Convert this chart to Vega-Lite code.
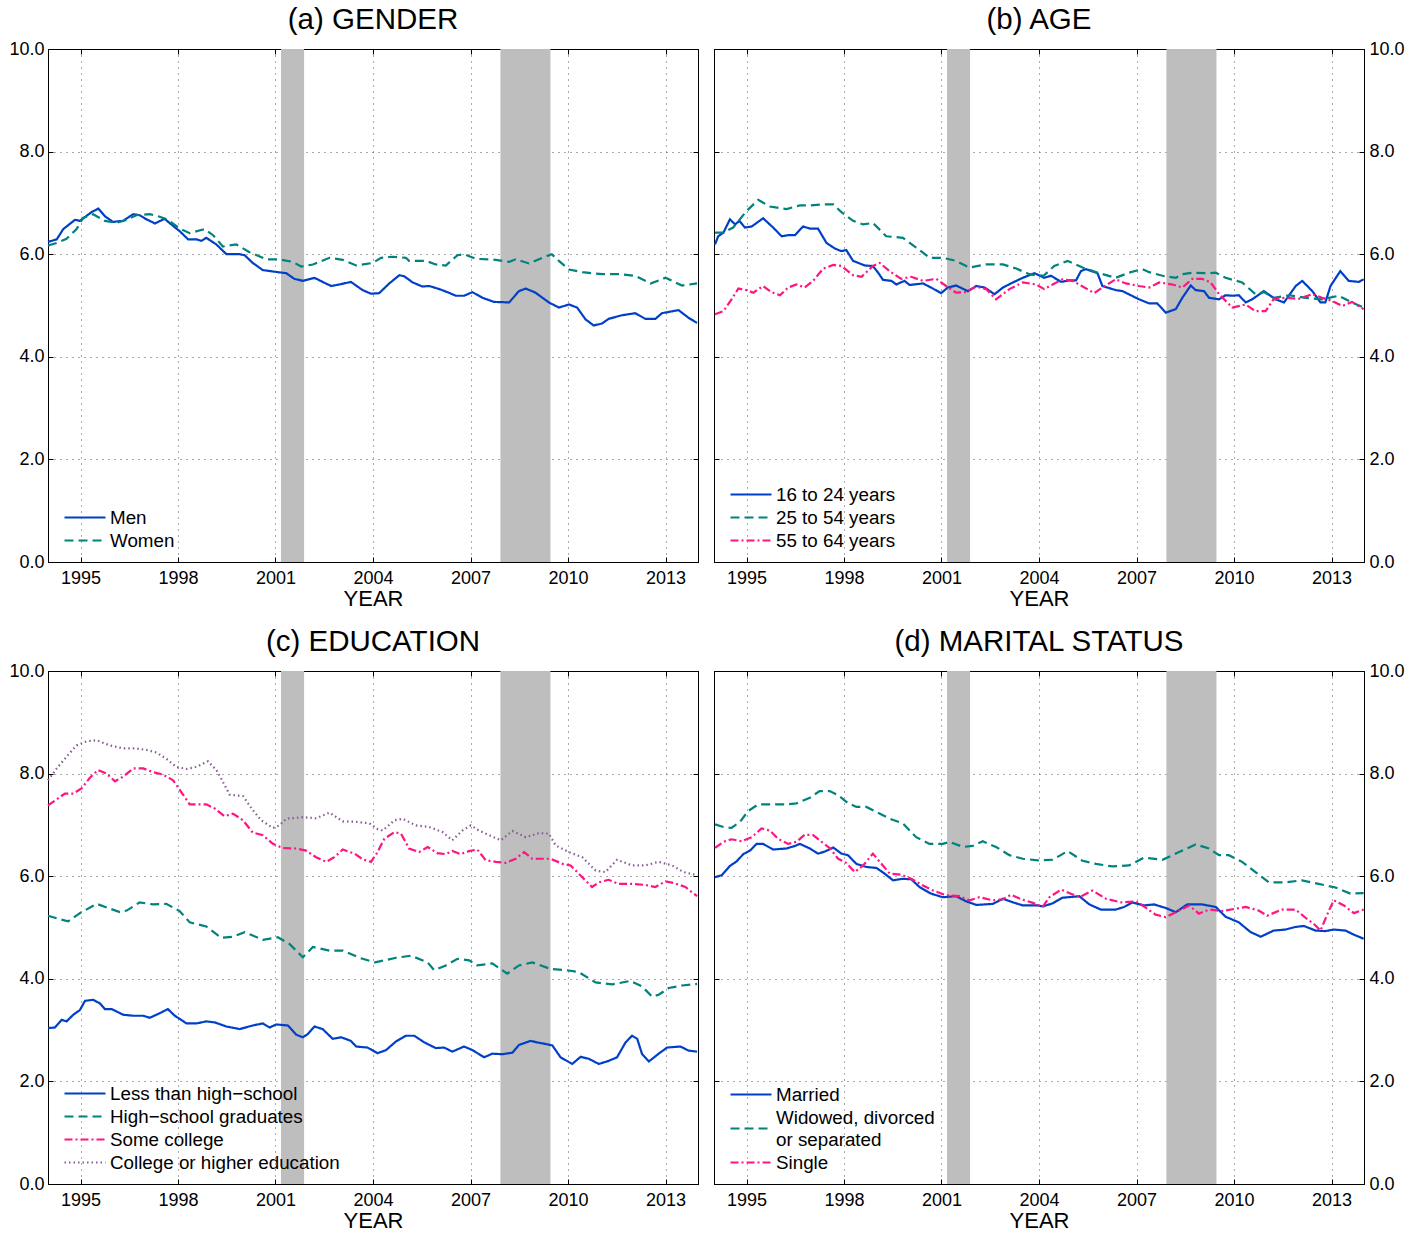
{
"$schema": "https://vega.github.io/schema/vega-lite/v6.json",
"padding": {"left": 8, "top": 4, "right": 5, "bottom": 5},
"config": {
  "font": "Liberation Sans",
  "view": {"stroke": "black", "strokeWidth": 1},
  "title": {"fontSize": 29.5, "fontWeight": "normal", "color": "black", "offset": 5},
  "axis": {"labelFontSize": 18, "labelColor": "black", "titleFontSize": 22, "titleFontWeight": "normal", "titleColor": "black", "domainColor": "black", "tickColor": "black", "tickSize": -5, "gridColor": "#555555", "gridDash": [1, 5], "gridOpacity": 1, "gridWidth": 1},
  "legend": {"orient": "bottom-left", "offset": 11, "padding": 0, "title": null, "labelFontSize": 18.8, "labelColor": "black", "symbolType": "stroke", "symbolSize": 1681, "symbolStrokeWidth": 2.2, "clipHeight": 17, "rowPadding": 3, "symbolOffset": 4, "labelOffset": 3, "labelLimit": 400}
},
"datasets": {
"rec": [{"start": 2001.17, "end": 2001.88}, {"start": 2007.92, "end": 2009.46}],
"a": [
{"s":"Men","x":1994.0,"y":6.24},{"s":"Men","x":1994.27,"y":6.29},{"s":"Men","x":1994.47,"y":6.49},{"s":"Men","x":1994.83,"y":6.67},{"s":"Men","x":1994.98,"y":6.65},{"s":"Men","x":1995.34,"y":6.82},{"s":"Men","x":1995.55,"y":6.89},{"s":"Men","x":1995.75,"y":6.74},{"s":"Men","x":1996.0,"y":6.63},{"s":"Men","x":1996.31,"y":6.65},{"s":"Men","x":1996.62,"y":6.78},{"s":"Men","x":1996.82,"y":6.76},{"s":"Men","x":1997.03,"y":6.68},{"s":"Men","x":1997.29,"y":6.60},{"s":"Men","x":1997.59,"y":6.69},{"s":"Men","x":1997.85,"y":6.55},{"s":"Men","x":1998.05,"y":6.45},{"s":"Men","x":1998.31,"y":6.29},{"s":"Men","x":1998.57,"y":6.29},{"s":"Men","x":1998.72,"y":6.26},{"s":"Men","x":1998.87,"y":6.32},{"s":"Men","x":1999.18,"y":6.19},{"s":"Men","x":1999.49,"y":6.00},{"s":"Men","x":1999.9,"y":6.00},{"s":"Men","x":2000.05,"y":5.98},{"s":"Men","x":2000.3,"y":5.83},{"s":"Men","x":2000.61,"y":5.69},{"s":"Men","x":2001.07,"y":5.65},{"s":"Men","x":2001.33,"y":5.63},{"s":"Men","x":2001.58,"y":5.52},{"s":"Men","x":2001.84,"y":5.48},{"s":"Men","x":2002.2,"y":5.54},{"s":"Men","x":2002.45,"y":5.46},{"s":"Men","x":2002.71,"y":5.38},{"s":"Men","x":2002.97,"y":5.41},{"s":"Men","x":2003.32,"y":5.46},{"s":"Men","x":2003.68,"y":5.30},{"s":"Men","x":2003.94,"y":5.23},{"s":"Men","x":2004.19,"y":5.24},{"s":"Men","x":2004.5,"y":5.43},{"s":"Men","x":2004.81,"y":5.59},{"s":"Men","x":2004.96,"y":5.57},{"s":"Men","x":2005.22,"y":5.45},{"s":"Men","x":2005.52,"y":5.37},{"s":"Men","x":2005.73,"y":5.38},{"s":"Men","x":2006.04,"y":5.32},{"s":"Men","x":2006.29,"y":5.26},{"s":"Men","x":2006.55,"y":5.19},{"s":"Men","x":2006.8,"y":5.19},{"s":"Men","x":2007.06,"y":5.26},{"s":"Men","x":2007.37,"y":5.15},{"s":"Men","x":2007.72,"y":5.07},{"s":"Men","x":2008.19,"y":5.06},{"s":"Men","x":2008.49,"y":5.28},{"s":"Men","x":2008.7,"y":5.33},{"s":"Men","x":2009.0,"y":5.25},{"s":"Men","x":2009.41,"y":5.06},{"s":"Men","x":2009.72,"y":4.96},{"s":"Men","x":2010.03,"y":5.02},{"s":"Men","x":2010.28,"y":4.96},{"s":"Men","x":2010.54,"y":4.73},{"s":"Men","x":2010.79,"y":4.61},{"s":"Men","x":2011.05,"y":4.65},{"s":"Men","x":2011.25,"y":4.74},{"s":"Men","x":2011.66,"y":4.81},{"s":"Men","x":2012.07,"y":4.85},{"s":"Men","x":2012.38,"y":4.74},{"s":"Men","x":2012.69,"y":4.74},{"s":"Men","x":2012.89,"y":4.85},{"s":"Men","x":2013.4,"y":4.91},{"s":"Men","x":2013.71,"y":4.76},{"s":"Men","x":2013.97,"y":4.66},
{"s":"Women","x":1994.0,"y":6.17},{"s":"Women","x":1994.27,"y":6.22},{"s":"Women","x":1994.57,"y":6.30},{"s":"Women","x":1994.88,"y":6.49},{"s":"Women","x":1995.08,"y":6.71},{"s":"Women","x":1995.39,"y":6.78},{"s":"Women","x":1995.75,"y":6.65},{"s":"Women","x":1996.11,"y":6.61},{"s":"Women","x":1996.42,"y":6.67},{"s":"Women","x":1996.72,"y":6.76},{"s":"Women","x":1997.13,"y":6.78},{"s":"Women","x":1997.44,"y":6.73},{"s":"Women","x":1997.69,"y":6.67},{"s":"Women","x":1998.05,"y":6.50},{"s":"Women","x":1998.36,"y":6.41},{"s":"Women","x":1998.82,"y":6.49},{"s":"Women","x":1999.08,"y":6.37},{"s":"Women","x":1999.38,"y":6.15},{"s":"Women","x":1999.79,"y":6.19},{"s":"Women","x":2000.2,"y":6.04},{"s":"Women","x":2000.71,"y":5.90},{"s":"Women","x":2001.12,"y":5.90},{"s":"Women","x":2001.53,"y":5.85},{"s":"Women","x":2001.79,"y":5.76},{"s":"Women","x":2002.15,"y":5.80},{"s":"Women","x":2002.66,"y":5.93},{"s":"Women","x":2003.07,"y":5.89},{"s":"Women","x":2003.48,"y":5.78},{"s":"Women","x":2003.99,"y":5.83},{"s":"Women","x":2004.25,"y":5.93},{"s":"Women","x":2004.6,"y":5.95},{"s":"Women","x":2005.01,"y":5.93},{"s":"Women","x":2005.11,"y":5.87},{"s":"Women","x":2005.63,"y":5.87},{"s":"Women","x":2005.93,"y":5.80},{"s":"Women","x":2006.24,"y":5.78},{"s":"Women","x":2006.6,"y":5.98},{"s":"Women","x":2006.8,"y":6.00},{"s":"Women","x":2007.16,"y":5.91},{"s":"Women","x":2007.78,"y":5.89},{"s":"Women","x":2008.19,"y":5.85},{"s":"Women","x":2008.39,"y":5.90},{"s":"Women","x":2008.8,"y":5.82},{"s":"Women","x":2009.21,"y":5.93},{"s":"Women","x":2009.5,"y":6.00},{"s":"Women","x":2009.72,"y":5.87},{"s":"Women","x":2010.03,"y":5.70},{"s":"Women","x":2010.44,"y":5.65},{"s":"Women","x":2011.05,"y":5.61},{"s":"Women","x":2011.56,"y":5.61},{"s":"Women","x":2012.07,"y":5.58},{"s":"Women","x":2012.54,"y":5.43},{"s":"Women","x":2013.0,"y":5.54},{"s":"Women","x":2013.51,"y":5.39},{"s":"Women","x":2013.97,"y":5.43}
],
"b": [
{"s":"16 to 24 years","x":1994.03,"y":6.19},{"s":"16 to 24 years","x":1994.13,"y":6.35},{"s":"16 to 24 years","x":1994.29,"y":6.42},{"s":"16 to 24 years","x":1994.49,"y":6.68},{"s":"16 to 24 years","x":1994.65,"y":6.58},{"s":"16 to 24 years","x":1994.78,"y":6.65},{"s":"16 to 24 years","x":1994.95,"y":6.52},{"s":"16 to 24 years","x":1995.16,"y":6.54},{"s":"16 to 24 years","x":1995.51,"y":6.70},{"s":"16 to 24 years","x":1995.82,"y":6.52},{"s":"16 to 24 years","x":1996.08,"y":6.35},{"s":"16 to 24 years","x":1996.28,"y":6.37},{"s":"16 to 24 years","x":1996.49,"y":6.37},{"s":"16 to 24 years","x":1996.74,"y":6.54},{"s":"16 to 24 years","x":1996.95,"y":6.50},{"s":"16 to 24 years","x":1997.2,"y":6.50},{"s":"16 to 24 years","x":1997.46,"y":6.22},{"s":"16 to 24 years","x":1997.72,"y":6.11},{"s":"16 to 24 years","x":1997.92,"y":6.06},{"s":"16 to 24 years","x":1998.07,"y":6.08},{"s":"16 to 24 years","x":1998.28,"y":5.87},{"s":"16 to 24 years","x":1998.64,"y":5.78},{"s":"16 to 24 years","x":1998.89,"y":5.77},{"s":"16 to 24 years","x":1999.05,"y":5.64},{"s":"16 to 24 years","x":1999.2,"y":5.50},{"s":"16 to 24 years","x":1999.46,"y":5.48},{"s":"16 to 24 years","x":1999.61,"y":5.41},{"s":"16 to 24 years","x":1999.86,"y":5.48},{"s":"16 to 24 years","x":2000.02,"y":5.40},{"s":"16 to 24 years","x":2000.43,"y":5.43},{"s":"16 to 24 years","x":2000.68,"y":5.35},{"s":"16 to 24 years","x":2000.99,"y":5.24},{"s":"16 to 24 years","x":2001.19,"y":5.35},{"s":"16 to 24 years","x":2001.45,"y":5.39},{"s":"16 to 24 years","x":2001.81,"y":5.28},{"s":"16 to 24 years","x":2002.07,"y":5.38},{"s":"16 to 24 years","x":2002.33,"y":5.35},{"s":"16 to 24 years","x":2002.63,"y":5.22},{"s":"16 to 24 years","x":2002.89,"y":5.35},{"s":"16 to 24 years","x":2003.2,"y":5.45},{"s":"16 to 24 years","x":2003.5,"y":5.54},{"s":"16 to 24 years","x":2003.86,"y":5.63},{"s":"16 to 24 years","x":2004.16,"y":5.54},{"s":"16 to 24 years","x":2004.37,"y":5.58},{"s":"16 to 24 years","x":2004.68,"y":5.46},{"s":"16 to 24 years","x":2004.93,"y":5.49},{"s":"16 to 24 years","x":2005.14,"y":5.49},{"s":"16 to 24 years","x":2005.29,"y":5.67},{"s":"16 to 24 years","x":2005.44,"y":5.71},{"s":"16 to 24 years","x":2005.8,"y":5.63},{"s":"16 to 24 years","x":2005.95,"y":5.38},{"s":"16 to 24 years","x":2006.36,"y":5.30},{"s":"16 to 24 years","x":2006.57,"y":5.28},{"s":"16 to 24 years","x":2007.08,"y":5.12},{"s":"16 to 24 years","x":2007.39,"y":5.04},{"s":"16 to 24 years","x":2007.64,"y":5.04},{"s":"16 to 24 years","x":2007.9,"y":4.86},{"s":"16 to 24 years","x":2008.21,"y":4.93},{"s":"16 to 24 years","x":2008.41,"y":5.15},{"s":"16 to 24 years","x":2008.67,"y":5.39},{"s":"16 to 24 years","x":2008.82,"y":5.30},{"s":"16 to 24 years","x":2009.08,"y":5.28},{"s":"16 to 24 years","x":2009.23,"y":5.15},{"s":"16 to 24 years","x":2009.54,"y":5.12},{"s":"16 to 24 years","x":2009.74,"y":5.20},{"s":"16 to 24 years","x":2009.95,"y":5.19},{"s":"16 to 24 years","x":2010.15,"y":5.20},{"s":"16 to 24 years","x":2010.36,"y":5.06},{"s":"16 to 24 years","x":2010.56,"y":5.12},{"s":"16 to 24 years","x":2010.92,"y":5.28},{"s":"16 to 24 years","x":2011.28,"y":5.12},{"s":"16 to 24 years","x":2011.54,"y":5.06},{"s":"16 to 24 years","x":2011.9,"y":5.38},{"s":"16 to 24 years","x":2012.1,"y":5.48},{"s":"16 to 24 years","x":2012.41,"y":5.28},{"s":"16 to 24 years","x":2012.66,"y":5.06},{"s":"16 to 24 years","x":2012.81,"y":5.06},{"s":"16 to 24 years","x":2012.97,"y":5.38},{"s":"16 to 24 years","x":2013.27,"y":5.67},{"s":"16 to 24 years","x":2013.53,"y":5.48},{"s":"16 to 24 years","x":2013.84,"y":5.46},{"s":"16 to 24 years","x":2013.99,"y":5.51},
{"s":"25 to 54 years","x":1994.03,"y":6.42},{"s":"25 to 54 years","x":1994.29,"y":6.42},{"s":"25 to 54 years","x":1994.59,"y":6.52},{"s":"25 to 54 years","x":1995.0,"y":6.84},{"s":"25 to 54 years","x":1995.36,"y":7.06},{"s":"25 to 54 years","x":1995.72,"y":6.93},{"s":"25 to 54 years","x":1996.23,"y":6.88},{"s":"25 to 54 years","x":1996.64,"y":6.95},{"s":"25 to 54 years","x":1996.95,"y":6.95},{"s":"25 to 54 years","x":1997.36,"y":6.97},{"s":"25 to 54 years","x":1997.67,"y":6.97},{"s":"25 to 54 years","x":1997.92,"y":6.82},{"s":"25 to 54 years","x":1998.28,"y":6.65},{"s":"25 to 54 years","x":1998.59,"y":6.58},{"s":"25 to 54 years","x":1998.89,"y":6.61},{"s":"25 to 54 years","x":1999.3,"y":6.35},{"s":"25 to 54 years","x":1999.81,"y":6.32},{"s":"25 to 54 years","x":2000.22,"y":6.13},{"s":"25 to 54 years","x":2000.63,"y":5.93},{"s":"25 to 54 years","x":2001.04,"y":5.93},{"s":"25 to 54 years","x":2001.45,"y":5.87},{"s":"25 to 54 years","x":2001.86,"y":5.74},{"s":"25 to 54 years","x":2002.37,"y":5.80},{"s":"25 to 54 years","x":2002.89,"y":5.80},{"s":"25 to 54 years","x":2003.3,"y":5.72},{"s":"25 to 54 years","x":2003.7,"y":5.61},{"s":"25 to 54 years","x":2004.01,"y":5.58},{"s":"25 to 54 years","x":2004.16,"y":5.59},{"s":"25 to 54 years","x":2004.47,"y":5.77},{"s":"25 to 54 years","x":2004.88,"y":5.87},{"s":"25 to 54 years","x":2005.34,"y":5.74},{"s":"25 to 54 years","x":2005.85,"y":5.63},{"s":"25 to 54 years","x":2006.36,"y":5.54},{"s":"25 to 54 years","x":2006.77,"y":5.64},{"s":"25 to 54 years","x":2007.18,"y":5.71},{"s":"25 to 54 years","x":2007.39,"y":5.65},{"s":"25 to 54 years","x":2007.8,"y":5.58},{"s":"25 to 54 years","x":2008.21,"y":5.54},{"s":"25 to 54 years","x":2008.41,"y":5.61},{"s":"25 to 54 years","x":2008.72,"y":5.64},{"s":"25 to 54 years","x":2009.23,"y":5.63},{"s":"25 to 54 years","x":2009.44,"y":5.64},{"s":"25 to 54 years","x":2009.74,"y":5.54},{"s":"25 to 54 years","x":2010.25,"y":5.45},{"s":"25 to 54 years","x":2010.66,"y":5.22},{"s":"25 to 54 years","x":2010.92,"y":5.26},{"s":"25 to 54 years","x":2011.22,"y":5.15},{"s":"25 to 54 years","x":2011.69,"y":5.20},{"s":"25 to 54 years","x":2012.2,"y":5.15},{"s":"25 to 54 years","x":2012.71,"y":5.12},{"s":"25 to 54 years","x":2013.22,"y":5.19},{"s":"25 to 54 years","x":2013.63,"y":5.06},{"s":"25 to 54 years","x":2013.99,"y":4.96},
{"s":"55 to 64 years","x":1994.03,"y":4.83},{"s":"55 to 64 years","x":1994.29,"y":4.89},{"s":"55 to 64 years","x":1994.54,"y":5.12},{"s":"55 to 64 years","x":1994.75,"y":5.33},{"s":"55 to 64 years","x":1995.0,"y":5.30},{"s":"55 to 64 years","x":1995.21,"y":5.25},{"s":"55 to 64 years","x":1995.51,"y":5.38},{"s":"55 to 64 years","x":1995.77,"y":5.26},{"s":"55 to 64 years","x":1996.03,"y":5.20},{"s":"55 to 64 years","x":1996.28,"y":5.35},{"s":"55 to 64 years","x":1996.54,"y":5.41},{"s":"55 to 64 years","x":1996.79,"y":5.35},{"s":"55 to 64 years","x":1997.05,"y":5.48},{"s":"55 to 64 years","x":1997.36,"y":5.72},{"s":"55 to 64 years","x":1997.67,"y":5.79},{"s":"55 to 64 years","x":1997.92,"y":5.77},{"s":"55 to 64 years","x":1998.28,"y":5.59},{"s":"55 to 64 years","x":1998.54,"y":5.56},{"s":"55 to 64 years","x":1998.89,"y":5.77},{"s":"55 to 64 years","x":1999.1,"y":5.83},{"s":"55 to 64 years","x":1999.4,"y":5.67},{"s":"55 to 64 years","x":1999.76,"y":5.52},{"s":"55 to 64 years","x":2000.07,"y":5.56},{"s":"55 to 64 years","x":2000.43,"y":5.48},{"s":"55 to 64 years","x":2000.84,"y":5.52},{"s":"55 to 64 years","x":2001.14,"y":5.38},{"s":"55 to 64 years","x":2001.45,"y":5.25},{"s":"55 to 64 years","x":2001.76,"y":5.26},{"s":"55 to 64 years","x":2002.07,"y":5.37},{"s":"55 to 64 years","x":2002.37,"y":5.32},{"s":"55 to 64 years","x":2002.68,"y":5.12},{"s":"55 to 64 years","x":2003.09,"y":5.32},{"s":"55 to 64 years","x":2003.5,"y":5.45},{"s":"55 to 64 years","x":2003.91,"y":5.41},{"s":"55 to 64 years","x":2004.16,"y":5.32},{"s":"55 to 64 years","x":2004.42,"y":5.41},{"s":"55 to 64 years","x":2004.72,"y":5.51},{"s":"55 to 64 years","x":2005.03,"y":5.48},{"s":"55 to 64 years","x":2005.29,"y":5.39},{"s":"55 to 64 years","x":2005.7,"y":5.24},{"s":"55 to 64 years","x":2005.95,"y":5.35},{"s":"55 to 64 years","x":2006.36,"y":5.51},{"s":"55 to 64 years","x":2006.67,"y":5.43},{"s":"55 to 64 years","x":2007.08,"y":5.38},{"s":"55 to 64 years","x":2007.39,"y":5.35},{"s":"55 to 64 years","x":2007.7,"y":5.45},{"s":"55 to 64 years","x":2008.1,"y":5.41},{"s":"55 to 64 years","x":2008.41,"y":5.35},{"s":"55 to 64 years","x":2008.72,"y":5.52},{"s":"55 to 64 years","x":2009.02,"y":5.52},{"s":"55 to 64 years","x":2009.28,"y":5.45},{"s":"55 to 64 years","x":2009.54,"y":5.22},{"s":"55 to 64 years","x":2009.95,"y":4.96},{"s":"55 to 64 years","x":2010.36,"y":5.02},{"s":"55 to 64 years","x":2010.66,"y":4.89},{"s":"55 to 64 years","x":2010.97,"y":4.89},{"s":"55 to 64 years","x":2011.22,"y":5.12},{"s":"55 to 64 years","x":2011.58,"y":5.15},{"s":"55 to 64 years","x":2011.99,"y":5.13},{"s":"55 to 64 years","x":2012.41,"y":5.22},{"s":"55 to 64 years","x":2012.71,"y":5.15},{"s":"55 to 64 years","x":2013.02,"y":5.09},{"s":"55 to 64 years","x":2013.33,"y":4.99},{"s":"55 to 64 years","x":2013.63,"y":5.07},{"s":"55 to 64 years","x":2013.99,"y":4.93}
],
"c": [
{"s":"Less than high\u2212school","x":1994.0,"y":3.04},{"s":"Less than high\u2212school","x":1994.21,"y":3.05},{"s":"Less than high\u2212school","x":1994.42,"y":3.20},{"s":"Less than high\u2212school","x":1994.57,"y":3.17},{"s":"Less than high\u2212school","x":1994.78,"y":3.30},{"s":"Less than high\u2212school","x":1994.98,"y":3.39},{"s":"Less than high\u2212school","x":1995.14,"y":3.57},{"s":"Less than high\u2212school","x":1995.39,"y":3.59},{"s":"Less than high\u2212school","x":1995.6,"y":3.52},{"s":"Less than high\u2212school","x":1995.75,"y":3.41},{"s":"Less than high\u2212school","x":1995.96,"y":3.41},{"s":"Less than high\u2212school","x":1996.31,"y":3.30},{"s":"Less than high\u2212school","x":1996.62,"y":3.28},{"s":"Less than high\u2212school","x":1996.93,"y":3.28},{"s":"Less than high\u2212school","x":1997.13,"y":3.24},{"s":"Less than high\u2212school","x":1997.44,"y":3.33},{"s":"Less than high\u2212school","x":1997.69,"y":3.41},{"s":"Less than high\u2212school","x":1997.9,"y":3.28},{"s":"Less than high\u2212school","x":1998.05,"y":3.22},{"s":"Less than high\u2212school","x":1998.26,"y":3.13},{"s":"Less than high\u2212school","x":1998.57,"y":3.13},{"s":"Less than high\u2212school","x":1998.87,"y":3.17},{"s":"Less than high\u2212school","x":1999.13,"y":3.15},{"s":"Less than high\u2212school","x":1999.49,"y":3.07},{"s":"Less than high\u2212school","x":1999.9,"y":3.02},{"s":"Less than high\u2212school","x":2000.3,"y":3.09},{"s":"Less than high\u2212school","x":2000.61,"y":3.13},{"s":"Less than high\u2212school","x":2000.82,"y":3.05},{"s":"Less than high\u2212school","x":2001.02,"y":3.11},{"s":"Less than high\u2212school","x":2001.38,"y":3.09},{"s":"Less than high\u2212school","x":2001.64,"y":2.91},{"s":"Less than high\u2212school","x":2001.84,"y":2.86},{"s":"Less than high\u2212school","x":2001.99,"y":2.92},{"s":"Less than high\u2212school","x":2002.2,"y":3.07},{"s":"Less than high\u2212school","x":2002.45,"y":3.02},{"s":"Less than high\u2212school","x":2002.76,"y":2.83},{"s":"Less than high\u2212school","x":2003.02,"y":2.86},{"s":"Less than high\u2212school","x":2003.32,"y":2.79},{"s":"Less than high\u2212school","x":2003.48,"y":2.68},{"s":"Less than high\u2212school","x":2003.83,"y":2.66},{"s":"Less than high\u2212school","x":2004.14,"y":2.55},{"s":"Less than high\u2212school","x":2004.4,"y":2.61},{"s":"Less than high\u2212school","x":2004.71,"y":2.78},{"s":"Less than high\u2212school","x":2005.01,"y":2.89},{"s":"Less than high\u2212school","x":2005.27,"y":2.89},{"s":"Less than high\u2212school","x":2005.58,"y":2.76},{"s":"Less than high\u2212school","x":2005.93,"y":2.65},{"s":"Less than high\u2212school","x":2006.19,"y":2.66},{"s":"Less than high\u2212school","x":2006.44,"y":2.58},{"s":"Less than high\u2212school","x":2006.8,"y":2.68},{"s":"Less than high\u2212school","x":2007.06,"y":2.61},{"s":"Less than high\u2212school","x":2007.42,"y":2.47},{"s":"Less than high\u2212school","x":2007.67,"y":2.54},{"s":"Less than high\u2212school","x":2007.98,"y":2.53},{"s":"Less than high\u2212school","x":2008.29,"y":2.56},{"s":"Less than high\u2212school","x":2008.49,"y":2.71},{"s":"Less than high\u2212school","x":2008.85,"y":2.79},{"s":"Less than high\u2212school","x":2009.05,"y":2.76},{"s":"Less than high\u2212school","x":2009.31,"y":2.73},{"s":"Less than high\u2212school","x":2009.52,"y":2.70},{"s":"Less than high\u2212school","x":2009.77,"y":2.47},{"s":"Less than high\u2212school","x":2010.13,"y":2.34},{"s":"Less than high\u2212school","x":2010.39,"y":2.48},{"s":"Less than high\u2212school","x":2010.64,"y":2.44},{"s":"Less than high\u2212school","x":2010.95,"y":2.34},{"s":"Less than high\u2212school","x":2011.25,"y":2.40},{"s":"Less than high\u2212school","x":2011.51,"y":2.47},{"s":"Less than high\u2212school","x":2011.77,"y":2.76},{"s":"Less than high\u2212school","x":2011.97,"y":2.89},{"s":"Less than high\u2212school","x":2012.13,"y":2.83},{"s":"Less than high\u2212school","x":2012.28,"y":2.53},{"s":"Less than high\u2212school","x":2012.49,"y":2.39},{"s":"Less than high\u2212school","x":2012.79,"y":2.54},{"s":"Less than high\u2212school","x":2013.05,"y":2.66},{"s":"Less than high\u2212school","x":2013.46,"y":2.68},{"s":"Less than high\u2212school","x":2013.71,"y":2.60},{"s":"Less than high\u2212school","x":2013.97,"y":2.58},
{"s":"High\u2212school graduates","x":1994.0,"y":5.23},{"s":"High\u2212school graduates","x":1994.32,"y":5.17},{"s":"High\u2212school graduates","x":1994.62,"y":5.12},{"s":"High\u2212school graduates","x":1994.98,"y":5.28},{"s":"High\u2212school graduates","x":1995.5,"y":5.46},{"s":"High\u2212school graduates","x":1995.9,"y":5.37},{"s":"High\u2212school graduates","x":1996.21,"y":5.30},{"s":"High\u2212school graduates","x":1996.42,"y":5.33},{"s":"High\u2212school graduates","x":1996.82,"y":5.49},{"s":"High\u2212school graduates","x":1997.23,"y":5.45},{"s":"High\u2212school graduates","x":1997.64,"y":5.46},{"s":"High\u2212school graduates","x":1998.05,"y":5.32},{"s":"High\u2212school graduates","x":1998.36,"y":5.10},{"s":"High\u2212school graduates","x":1998.87,"y":5.02},{"s":"High\u2212school graduates","x":1999.33,"y":4.80},{"s":"High\u2212school graduates","x":1999.69,"y":4.82},{"s":"High\u2212school graduates","x":2000.05,"y":4.91},{"s":"High\u2212school graduates","x":2000.61,"y":4.76},{"s":"High\u2212school graduates","x":2001.07,"y":4.81},{"s":"High\u2212school graduates","x":2001.43,"y":4.68},{"s":"High\u2212school graduates","x":2001.84,"y":4.42},{"s":"High\u2212school graduates","x":2002.15,"y":4.62},{"s":"High\u2212school graduates","x":2002.66,"y":4.55},{"s":"High\u2212school graduates","x":2003.07,"y":4.55},{"s":"High\u2212school graduates","x":2003.58,"y":4.41},{"s":"High\u2212school graduates","x":2004.06,"y":4.32},{"s":"High\u2212school graduates","x":2004.71,"y":4.41},{"s":"High\u2212school graduates","x":2005.17,"y":4.45},{"s":"High\u2212school graduates","x":2005.68,"y":4.32},{"s":"High\u2212school graduates","x":2005.88,"y":4.17},{"s":"High\u2212school graduates","x":2006.24,"y":4.26},{"s":"High\u2212school graduates","x":2006.6,"y":4.39},{"s":"High\u2212school graduates","x":2006.96,"y":4.36},{"s":"High\u2212school graduates","x":2007.21,"y":4.26},{"s":"High\u2212school graduates","x":2007.67,"y":4.30},{"s":"High\u2212school graduates","x":2008.13,"y":4.10},{"s":"High\u2212school graduates","x":2008.49,"y":4.26},{"s":"High\u2212school graduates","x":2008.9,"y":4.32},{"s":"High\u2212school graduates","x":2009.47,"y":4.19},{"s":"High\u2212school graduates","x":2009.93,"y":4.17},{"s":"High\u2212school graduates","x":2010.33,"y":4.13},{"s":"High\u2212school graduates","x":2010.85,"y":3.93},{"s":"High\u2212school graduates","x":2011.36,"y":3.89},{"s":"High\u2212school graduates","x":2011.92,"y":3.96},{"s":"High\u2212school graduates","x":2012.28,"y":3.85},{"s":"High\u2212school graduates","x":2012.59,"y":3.65},{"s":"High\u2212school graduates","x":2012.79,"y":3.69},{"s":"High\u2212school graduates","x":2013.1,"y":3.82},{"s":"High\u2212school graduates","x":2013.51,"y":3.87},{"s":"High\u2212school graduates","x":2013.97,"y":3.90},
{"s":"Some college","x":1994.0,"y":7.38},{"s":"Some college","x":1994.27,"y":7.50},{"s":"Some college","x":1994.52,"y":7.61},{"s":"Some college","x":1994.78,"y":7.61},{"s":"Some college","x":1995.03,"y":7.71},{"s":"Some college","x":1995.29,"y":7.92},{"s":"Some college","x":1995.54,"y":8.07},{"s":"Some college","x":1995.8,"y":8.00},{"s":"Some college","x":1996.06,"y":7.85},{"s":"Some college","x":1996.31,"y":7.94},{"s":"Some college","x":1996.62,"y":8.10},{"s":"Some college","x":1996.93,"y":8.10},{"s":"Some college","x":1997.23,"y":8.03},{"s":"Some college","x":1997.54,"y":7.98},{"s":"Some college","x":1997.85,"y":7.87},{"s":"Some college","x":1998.1,"y":7.64},{"s":"Some college","x":1998.36,"y":7.40},{"s":"Some college","x":1998.61,"y":7.40},{"s":"Some college","x":1998.87,"y":7.40},{"s":"Some college","x":1999.13,"y":7.32},{"s":"Some college","x":1999.43,"y":7.17},{"s":"Some college","x":1999.69,"y":7.22},{"s":"Some college","x":2000.0,"y":7.09},{"s":"Some college","x":2000.3,"y":6.85},{"s":"Some college","x":2000.61,"y":6.80},{"s":"Some college","x":2000.92,"y":6.63},{"s":"Some college","x":2001.23,"y":6.55},{"s":"Some college","x":2001.64,"y":6.54},{"s":"Some college","x":2001.94,"y":6.50},{"s":"Some college","x":2002.25,"y":6.37},{"s":"Some college","x":2002.56,"y":6.28},{"s":"Some college","x":2002.81,"y":6.37},{"s":"Some college","x":2003.07,"y":6.52},{"s":"Some college","x":2003.43,"y":6.44},{"s":"Some college","x":2003.68,"y":6.33},{"s":"Some college","x":2003.94,"y":6.28},{"s":"Some college","x":2004.12,"y":6.45},{"s":"Some college","x":2004.35,"y":6.73},{"s":"Some college","x":2004.66,"y":6.86},{"s":"Some college","x":2004.86,"y":6.83},{"s":"Some college","x":2005.11,"y":6.54},{"s":"Some college","x":2005.42,"y":6.47},{"s":"Some college","x":2005.68,"y":6.57},{"s":"Some college","x":2005.98,"y":6.45},{"s":"Some college","x":2006.24,"y":6.43},{"s":"Some college","x":2006.44,"y":6.49},{"s":"Some college","x":2006.7,"y":6.43},{"s":"Some college","x":2006.96,"y":6.49},{"s":"Some college","x":2007.21,"y":6.52},{"s":"Some college","x":2007.47,"y":6.31},{"s":"Some college","x":2007.78,"y":6.28},{"s":"Some college","x":2008.08,"y":6.26},{"s":"Some college","x":2008.39,"y":6.34},{"s":"Some college","x":2008.65,"y":6.47},{"s":"Some college","x":2008.9,"y":6.34},{"s":"Some college","x":2009.21,"y":6.34},{"s":"Some college","x":2009.47,"y":6.34},{"s":"Some college","x":2009.83,"y":6.24},{"s":"Some college","x":2010.08,"y":6.21},{"s":"Some college","x":2010.44,"y":5.98},{"s":"Some college","x":2010.74,"y":5.79},{"s":"Some college","x":2010.95,"y":5.88},{"s":"Some college","x":2011.25,"y":5.93},{"s":"Some college","x":2011.56,"y":5.85},{"s":"Some college","x":2011.97,"y":5.85},{"s":"Some college","x":2012.38,"y":5.83},{"s":"Some college","x":2012.69,"y":5.79},{"s":"Some college","x":2013.0,"y":5.90},{"s":"Some college","x":2013.3,"y":5.86},{"s":"Some college","x":2013.61,"y":5.79},{"s":"Some college","x":2013.97,"y":5.61},
{"s":"College or higher education","x":1994.0,"y":7.87},{"s":"College or higher education","x":1994.27,"y":8.10},{"s":"College or higher education","x":1994.57,"y":8.33},{"s":"College or higher education","x":1994.88,"y":8.55},{"s":"College or higher education","x":1995.19,"y":8.63},{"s":"College or higher education","x":1995.5,"y":8.65},{"s":"College or higher education","x":1995.9,"y":8.55},{"s":"College or higher education","x":1996.31,"y":8.49},{"s":"College or higher education","x":1996.72,"y":8.49},{"s":"College or higher education","x":1997.03,"y":8.46},{"s":"College or higher education","x":1997.34,"y":8.41},{"s":"College or higher education","x":1997.64,"y":8.29},{"s":"College or higher education","x":1997.95,"y":8.13},{"s":"College or higher education","x":1998.26,"y":8.09},{"s":"College or higher education","x":1998.57,"y":8.13},{"s":"College or higher education","x":1998.92,"y":8.24},{"s":"College or higher education","x":1999.18,"y":8.07},{"s":"College or higher education","x":1999.38,"y":7.84},{"s":"College or higher education","x":1999.59,"y":7.59},{"s":"College or higher education","x":2000.0,"y":7.56},{"s":"College or higher education","x":2000.3,"y":7.29},{"s":"College or higher education","x":2000.56,"y":7.09},{"s":"College or higher education","x":2000.92,"y":6.94},{"s":"College or higher education","x":2001.12,"y":6.99},{"s":"College or higher education","x":2001.33,"y":7.12},{"s":"College or higher education","x":2001.84,"y":7.15},{"s":"College or higher education","x":2002.25,"y":7.13},{"s":"College or higher education","x":2002.66,"y":7.24},{"s":"College or higher education","x":2003.07,"y":7.07},{"s":"College or higher education","x":2003.48,"y":7.06},{"s":"College or higher education","x":2003.89,"y":7.03},{"s":"College or higher education","x":2004.14,"y":6.92},{"s":"College or higher education","x":2004.3,"y":6.89},{"s":"College or higher education","x":2004.66,"y":7.09},{"s":"College or higher education","x":2004.91,"y":7.12},{"s":"College or higher education","x":2005.32,"y":6.99},{"s":"College or higher education","x":2005.73,"y":6.96},{"s":"College or higher education","x":2006.14,"y":6.86},{"s":"College or higher education","x":2006.44,"y":6.70},{"s":"College or higher education","x":2006.75,"y":6.89},{"s":"College or higher education","x":2007.01,"y":6.99},{"s":"College or higher education","x":2007.26,"y":6.89},{"s":"College or higher education","x":2007.57,"y":6.80},{"s":"College or higher education","x":2007.93,"y":6.70},{"s":"College or higher education","x":2008.29,"y":6.88},{"s":"College or higher education","x":2008.7,"y":6.76},{"s":"College or higher education","x":2009.11,"y":6.84},{"s":"College or higher education","x":2009.41,"y":6.83},{"s":"College or higher education","x":2009.62,"y":6.60},{"s":"College or higher education","x":2010.03,"y":6.47},{"s":"College or higher education","x":2010.44,"y":6.37},{"s":"College or higher education","x":2010.85,"y":6.11},{"s":"College or higher education","x":2011.15,"y":6.08},{"s":"College or higher education","x":2011.51,"y":6.32},{"s":"College or higher education","x":2011.97,"y":6.21},{"s":"College or higher education","x":2012.38,"y":6.21},{"s":"College or higher education","x":2012.79,"y":6.28},{"s":"College or higher education","x":2013.2,"y":6.21},{"s":"College or higher education","x":2013.56,"y":6.08},{"s":"College or higher education","x":2013.97,"y":6.02}
],
"d": [
{"s":"Married","x":1994.03,"y":5.98},{"s":"Married","x":1994.24,"y":6.02},{"s":"Married","x":1994.49,"y":6.20},{"s":"Married","x":1994.7,"y":6.29},{"s":"Married","x":1994.9,"y":6.43},{"s":"Married","x":1995.11,"y":6.50},{"s":"Married","x":1995.31,"y":6.63},{"s":"Married","x":1995.51,"y":6.63},{"s":"Married","x":1995.82,"y":6.52},{"s":"Married","x":1996.23,"y":6.54},{"s":"Married","x":1996.49,"y":6.59},{"s":"Married","x":1996.64,"y":6.63},{"s":"Married","x":1996.95,"y":6.54},{"s":"Married","x":1997.2,"y":6.44},{"s":"Married","x":1997.41,"y":6.48},{"s":"Married","x":1997.67,"y":6.56},{"s":"Married","x":1997.92,"y":6.44},{"s":"Married","x":1998.12,"y":6.41},{"s":"Married","x":1998.38,"y":6.24},{"s":"Married","x":1998.69,"y":6.18},{"s":"Married","x":1999.0,"y":6.16},{"s":"Married","x":1999.25,"y":6.05},{"s":"Married","x":1999.51,"y":5.92},{"s":"Married","x":1999.81,"y":5.95},{"s":"Married","x":2000.07,"y":5.94},{"s":"Married","x":2000.32,"y":5.79},{"s":"Married","x":2000.68,"y":5.66},{"s":"Married","x":2001.04,"y":5.59},{"s":"Married","x":2001.45,"y":5.61},{"s":"Married","x":2001.76,"y":5.51},{"s":"Married","x":2002.07,"y":5.44},{"s":"Married","x":2002.58,"y":5.46},{"s":"Married","x":2002.89,"y":5.56},{"s":"Married","x":2003.2,"y":5.49},{"s":"Married","x":2003.5,"y":5.43},{"s":"Married","x":2003.96,"y":5.43},{"s":"Married","x":2004.11,"y":5.41},{"s":"Married","x":2004.42,"y":5.47},{"s":"Married","x":2004.72,"y":5.58},{"s":"Married","x":2005.24,"y":5.61},{"s":"Married","x":2005.55,"y":5.45},{"s":"Married","x":2005.9,"y":5.35},{"s":"Married","x":2006.36,"y":5.35},{"s":"Married","x":2006.62,"y":5.40},{"s":"Married","x":2006.87,"y":5.49},{"s":"Married","x":2007.23,"y":5.43},{"s":"Married","x":2007.54,"y":5.45},{"s":"Married","x":2007.9,"y":5.38},{"s":"Married","x":2008.21,"y":5.30},{"s":"Married","x":2008.56,"y":5.45},{"s":"Married","x":2009.02,"y":5.45},{"s":"Married","x":2009.44,"y":5.40},{"s":"Married","x":2009.74,"y":5.21},{"s":"Married","x":2010.15,"y":5.10},{"s":"Married","x":2010.51,"y":4.91},{"s":"Married","x":2010.82,"y":4.82},{"s":"Married","x":2011.22,"y":4.94},{"s":"Married","x":2011.58,"y":4.96},{"s":"Married","x":2011.89,"y":5.01},{"s":"Married","x":2012.15,"y":5.03},{"s":"Married","x":2012.51,"y":4.94},{"s":"Married","x":2012.81,"y":4.93},{"s":"Married","x":2013.07,"y":4.96},{"s":"Married","x":2013.43,"y":4.94},{"s":"Married","x":2013.69,"y":4.86},{"s":"Married","x":2013.99,"y":4.78},
{"s":"Widowed, divorced|or separated","x":1994.03,"y":7.01},{"s":"Widowed, divorced|or separated","x":1994.29,"y":6.96},{"s":"Widowed, divorced|or separated","x":1994.54,"y":6.94},{"s":"Widowed, divorced|or separated","x":1994.8,"y":7.06},{"s":"Widowed, divorced|or separated","x":1995.05,"y":7.27},{"s":"Widowed, divorced|or separated","x":1995.36,"y":7.40},{"s":"Widowed, divorced|or separated","x":1995.82,"y":7.40},{"s":"Widowed, divorced|or separated","x":1996.23,"y":7.40},{"s":"Widowed, divorced|or separated","x":1996.54,"y":7.42},{"s":"Widowed, divorced|or separated","x":1996.95,"y":7.53},{"s":"Widowed, divorced|or separated","x":1997.25,"y":7.66},{"s":"Widowed, divorced|or separated","x":1997.56,"y":7.66},{"s":"Widowed, divorced|or separated","x":1997.82,"y":7.58},{"s":"Widowed, divorced|or separated","x":1998.07,"y":7.45},{"s":"Widowed, divorced|or separated","x":1998.38,"y":7.35},{"s":"Widowed, divorced|or separated","x":1998.69,"y":7.35},{"s":"Widowed, divorced|or separated","x":1999.0,"y":7.25},{"s":"Widowed, divorced|or separated","x":1999.41,"y":7.12},{"s":"Widowed, divorced|or separated","x":1999.81,"y":7.03},{"s":"Widowed, divorced|or separated","x":2000.22,"y":6.76},{"s":"Widowed, divorced|or separated","x":2000.63,"y":6.63},{"s":"Widowed, divorced|or separated","x":2001.04,"y":6.63},{"s":"Widowed, divorced|or separated","x":2001.25,"y":6.67},{"s":"Widowed, divorced|or separated","x":2001.66,"y":6.57},{"s":"Widowed, divorced|or separated","x":2001.96,"y":6.59},{"s":"Widowed, divorced|or separated","x":2002.27,"y":6.68},{"s":"Widowed, divorced|or separated","x":2002.68,"y":6.57},{"s":"Widowed, divorced|or separated","x":2003.09,"y":6.41},{"s":"Widowed, divorced|or separated","x":2003.5,"y":6.34},{"s":"Widowed, divorced|or separated","x":2003.96,"y":6.31},{"s":"Widowed, divorced|or separated","x":2004.42,"y":6.32},{"s":"Widowed, divorced|or separated","x":2004.88,"y":6.49},{"s":"Widowed, divorced|or separated","x":2005.34,"y":6.30},{"s":"Widowed, divorced|or separated","x":2005.75,"y":6.24},{"s":"Widowed, divorced|or separated","x":2006.26,"y":6.19},{"s":"Widowed, divorced|or separated","x":2006.77,"y":6.21},{"s":"Widowed, divorced|or separated","x":2007.23,"y":6.36},{"s":"Widowed, divorced|or separated","x":2007.8,"y":6.32},{"s":"Widowed, divorced|or separated","x":2008.31,"y":6.47},{"s":"Widowed, divorced|or separated","x":2008.82,"y":6.62},{"s":"Widowed, divorced|or separated","x":2009.23,"y":6.54},{"s":"Widowed, divorced|or separated","x":2009.54,"y":6.41},{"s":"Widowed, divorced|or separated","x":2009.84,"y":6.41},{"s":"Widowed, divorced|or separated","x":2010.25,"y":6.28},{"s":"Widowed, divorced|or separated","x":2010.66,"y":6.08},{"s":"Widowed, divorced|or separated","x":2011.07,"y":5.88},{"s":"Widowed, divorced|or separated","x":2011.58,"y":5.88},{"s":"Widowed, divorced|or separated","x":2012.09,"y":5.92},{"s":"Widowed, divorced|or separated","x":2012.6,"y":5.85},{"s":"Widowed, divorced|or separated","x":2013.12,"y":5.78},{"s":"Widowed, divorced|or separated","x":2013.58,"y":5.66},{"s":"Widowed, divorced|or separated","x":2013.99,"y":5.67},
{"s":"Single","x":1994.03,"y":6.55},{"s":"Single","x":1994.29,"y":6.67},{"s":"Single","x":1994.54,"y":6.72},{"s":"Single","x":1994.85,"y":6.68},{"s":"Single","x":1995.16,"y":6.76},{"s":"Single","x":1995.46,"y":6.93},{"s":"Single","x":1995.72,"y":6.89},{"s":"Single","x":1995.97,"y":6.73},{"s":"Single","x":1996.28,"y":6.63},{"s":"Single","x":1996.54,"y":6.67},{"s":"Single","x":1996.79,"y":6.81},{"s":"Single","x":1997.05,"y":6.80},{"s":"Single","x":1997.31,"y":6.67},{"s":"Single","x":1997.56,"y":6.55},{"s":"Single","x":1997.82,"y":6.34},{"s":"Single","x":1998.07,"y":6.26},{"s":"Single","x":1998.33,"y":6.08},{"s":"Single","x":1998.59,"y":6.21},{"s":"Single","x":1998.89,"y":6.44},{"s":"Single","x":1999.1,"y":6.28},{"s":"Single","x":1999.41,"y":6.05},{"s":"Single","x":1999.76,"y":6.03},{"s":"Single","x":2000.07,"y":5.95},{"s":"Single","x":2000.43,"y":5.82},{"s":"Single","x":2000.74,"y":5.72},{"s":"Single","x":2001.14,"y":5.63},{"s":"Single","x":2001.55,"y":5.61},{"s":"Single","x":2001.86,"y":5.53},{"s":"Single","x":2002.17,"y":5.59},{"s":"Single","x":2002.58,"y":5.53},{"s":"Single","x":2002.89,"y":5.55},{"s":"Single","x":2003.14,"y":5.64},{"s":"Single","x":2003.45,"y":5.55},{"s":"Single","x":2003.81,"y":5.48},{"s":"Single","x":2004.11,"y":5.40},{"s":"Single","x":2004.32,"y":5.59},{"s":"Single","x":2004.68,"y":5.74},{"s":"Single","x":2004.98,"y":5.66},{"s":"Single","x":2005.24,"y":5.59},{"s":"Single","x":2005.65,"y":5.72},{"s":"Single","x":2006.06,"y":5.56},{"s":"Single","x":2006.52,"y":5.49},{"s":"Single","x":2006.98,"y":5.51},{"s":"Single","x":2007.23,"y":5.41},{"s":"Single","x":2007.59,"y":5.25},{"s":"Single","x":2007.9,"y":5.20},{"s":"Single","x":2008.31,"y":5.33},{"s":"Single","x":2008.62,"y":5.43},{"s":"Single","x":2008.92,"y":5.27},{"s":"Single","x":2009.23,"y":5.35},{"s":"Single","x":2009.64,"y":5.32},{"s":"Single","x":2010.36,"y":5.40},{"s":"Single","x":2010.76,"y":5.33},{"s":"Single","x":2011.02,"y":5.23},{"s":"Single","x":2011.48,"y":5.35},{"s":"Single","x":2011.89,"y":5.35},{"s":"Single","x":2012.2,"y":5.19},{"s":"Single","x":2012.51,"y":5.04},{"s":"Single","x":2012.66,"y":4.94},{"s":"Single","x":2012.92,"y":5.33},{"s":"Single","x":2013.07,"y":5.53},{"s":"Single","x":2013.38,"y":5.43},{"s":"Single","x":2013.69,"y":5.28},{"s":"Single","x":2013.99,"y":5.35}
]
},
"vconcat": [
{"hconcat": [
 {"title": "(a) GENDER", "width": 650, "height": 513,
  "layer": [
   {"data": {"name": "rec"}, "mark": {"type": "rect", "color": "#bebebe"},
    "encoding": {
     "x": {"field": "start", "type": "quantitative", "scale": {"domain": [1994, 2014], "nice": false, "zero": false}, "axis": {"orient": "top", "labels": false, "grid": false, "title": null, "values": [1995, 1998, 2001, 2004, 2007, 2010, 2013]}},
     "x2": {"field": "end"},
     "y": {"datum": 0, "type": "quantitative", "scale": {"domain": [0, 10], "nice": false, "zero": true}, "axis": {"orient": "right", "labels": false, "grid": false, "title": null, "values": [0, 2, 4, 6, 8, 10]}},
     "y2": {"datum": 10}}},
   {"data": {"name": "a"}, "mark": {"type": "line", "strokeWidth": 2.2},
    "encoding": {
     "x": {"field": "x", "type": "quantitative", "scale": {"domain": [1994, 2014], "nice": false, "zero": false}, "axis": {"orient": "bottom", "values": [1995, 1998, 2001, 2004, 2007, 2010, 2013], "format": "d", "title": "YEAR", "grid": true, "labelPadding": 12, "titlePadding": 1}},
     "y": {"field": "y", "type": "quantitative", "scale": {"domain": [0, 10], "nice": false}, "axis": {"orient": "left", "values": [0, 2, 4, 6, 8, 10], "format": ".1f", "title": null, "grid": true, "labelPadding": 9}},
     "color": {"field": "s", "type": "nominal", "scale": {"domain": ["Men", "Women"], "range": ["#0040C8", "#00827D"]}, "legend": {}},
     "strokeDash": {"field": "s", "type": "nominal", "scale": {"domain": ["Men", "Women"], "range": [[1, 0], [9, 5]]}, "legend": {}}}}
  ],
  "resolve": {"axis": {"x": "independent", "y": "independent"}}},
 {"title": "(b) AGE", "width": 650, "height": 513,
  "layer": [
   {"data": {"name": "rec"}, "mark": {"type": "rect", "color": "#bebebe"},
    "encoding": {
     "x": {"field": "start", "type": "quantitative", "scale": {"domain": [1994, 2014], "nice": false, "zero": false}, "axis": {"orient": "top", "labels": false, "grid": false, "title": null, "values": [1995, 1998, 2001, 2004, 2007, 2010, 2013]}},
     "x2": {"field": "end"},
     "y": {"datum": 0, "type": "quantitative", "scale": {"domain": [0, 10], "nice": false, "zero": true}, "axis": {"orient": "left", "labels": false, "grid": false, "title": null, "values": [0, 2, 4, 6, 8, 10]}},
     "y2": {"datum": 10}}},
   {"data": {"name": "b"}, "mark": {"type": "line", "strokeWidth": 2.2},
    "encoding": {
     "x": {"field": "x", "type": "quantitative", "scale": {"domain": [1994, 2014], "nice": false, "zero": false}, "axis": {"orient": "bottom", "values": [1995, 1998, 2001, 2004, 2007, 2010, 2013], "format": "d", "title": "YEAR", "grid": true, "labelPadding": 12, "titlePadding": 1}},
     "y": {"field": "y", "type": "quantitative", "scale": {"domain": [0, 10], "nice": false}, "axis": {"orient": "right", "values": [0, 2, 4, 6, 8, 10], "format": ".1f", "title": null, "grid": true, "labelPadding": 10}},
     "color": {"field": "s", "type": "nominal", "scale": {"domain": ["16 to 24 years", "25 to 54 years", "55 to 64 years"], "range": ["#0040C8", "#00827D", "#FF1482"]}, "legend": {}},
     "strokeDash": {"field": "s", "type": "nominal", "scale": {"domain": ["16 to 24 years", "25 to 54 years", "55 to 64 years"], "range": [[1, 0], [9, 5], [8, 3, 2, 3]]}, "legend": {}}}}
  ],
  "resolve": {"axis": {"x": "independent", "y": "independent"}}}
 ],
 "spacing": 8,
 "resolve": {"scale": {"color": "independent", "strokeDash": "independent"}}},
{"hconcat": [
 {"title": "(c) EDUCATION", "width": 650, "height": 513,
  "layer": [
   {"data": {"name": "rec"}, "mark": {"type": "rect", "color": "#bebebe"},
    "encoding": {
     "x": {"field": "start", "type": "quantitative", "scale": {"domain": [1994, 2014], "nice": false, "zero": false}, "axis": {"orient": "top", "labels": false, "grid": false, "title": null, "values": [1995, 1998, 2001, 2004, 2007, 2010, 2013]}},
     "x2": {"field": "end"},
     "y": {"datum": 0, "type": "quantitative", "scale": {"domain": [0, 10], "nice": false, "zero": true}, "axis": {"orient": "right", "labels": false, "grid": false, "title": null, "values": [0, 2, 4, 6, 8, 10]}},
     "y2": {"datum": 10}}},
   {"data": {"name": "c"}, "mark": {"type": "line", "strokeWidth": 2.2},
    "encoding": {
     "x": {"field": "x", "type": "quantitative", "scale": {"domain": [1994, 2014], "nice": false, "zero": false}, "axis": {"orient": "bottom", "values": [1995, 1998, 2001, 2004, 2007, 2010, 2013], "format": "d", "title": "YEAR", "grid": true, "labelPadding": 12, "titlePadding": 1}},
     "y": {"field": "y", "type": "quantitative", "scale": {"domain": [0, 10], "nice": false}, "axis": {"orient": "left", "values": [0, 2, 4, 6, 8, 10], "format": ".1f", "title": null, "grid": true, "labelPadding": 9}},
     "color": {"field": "s", "type": "nominal", "scale": {"domain": ["Less than high\u2212school", "High\u2212school graduates", "Some college", "College or higher education"], "range": ["#0040C8", "#00827D", "#FF1482", "#8A5A96"]}, "legend": {}},
     "strokeDash": {"field": "s", "type": "nominal", "scale": {"domain": ["Less than high\u2212school", "High\u2212school graduates", "Some college", "College or higher education"], "range": [[1, 0], [9, 5], [8, 3, 2, 3], [1.5, 3]]}, "legend": {}}}}
  ],
  "resolve": {"axis": {"x": "independent", "y": "independent"}}},
 {"title": "(d) MARITAL STATUS", "width": 650, "height": 513,
  "layer": [
   {"data": {"name": "rec"}, "mark": {"type": "rect", "color": "#bebebe"},
    "encoding": {
     "x": {"field": "start", "type": "quantitative", "scale": {"domain": [1994, 2014], "nice": false, "zero": false}, "axis": {"orient": "top", "labels": false, "grid": false, "title": null, "values": [1995, 1998, 2001, 2004, 2007, 2010, 2013]}},
     "x2": {"field": "end"},
     "y": {"datum": 0, "type": "quantitative", "scale": {"domain": [0, 10], "nice": false, "zero": true}, "axis": {"orient": "left", "labels": false, "grid": false, "title": null, "values": [0, 2, 4, 6, 8, 10]}},
     "y2": {"datum": 10}}},
   {"data": {"name": "d"}, "mark": {"type": "line", "strokeWidth": 2.2},
    "encoding": {
     "x": {"field": "x", "type": "quantitative", "scale": {"domain": [1994, 2014], "nice": false, "zero": false}, "axis": {"orient": "bottom", "values": [1995, 1998, 2001, 2004, 2007, 2010, 2013], "format": "d", "title": "YEAR", "grid": true, "labelPadding": 12, "titlePadding": 1}},
     "y": {"field": "y", "type": "quantitative", "scale": {"domain": [0, 10], "nice": false}, "axis": {"orient": "right", "values": [0, 2, 4, 6, 8, 10], "format": ".1f", "title": null, "grid": true, "labelPadding": 10}},
     "color": {"field": "s", "type": "nominal", "scale": {"domain": ["Married", "Widowed, divorced|or separated", "Single"], "range": ["#0040C8", "#00827D", "#FF1482"]}, "legend": {"labelExpr": "split(datum.label, '|')", "encode": {"labels": {"update": {"lineHeight": {"value": 22}}}, "symbols": {"update": {"y": {"signal": "indexof(datum.value, '|') >= 0 ? 19.5 : 8.5"}}}}}},
     "strokeDash": {"field": "s", "type": "nominal", "scale": {"domain": ["Married", "Widowed, divorced|or separated", "Single"], "range": [[1, 0], [9, 5], [8, 3, 2, 3]]}, "legend": {"labelExpr": "split(datum.label, '|')", "encode": {"labels": {"update": {"lineHeight": {"value": 22}}}, "symbols": {"update": {"y": {"signal": "indexof(datum.value, '|') >= 0 ? 19.5 : 8.5"}}}}}}}}
  ],
  "resolve": {"axis": {"x": "independent", "y": "independent"}}}
 ],
 "spacing": 8,
 "resolve": {"scale": {"color": "independent", "strokeDash": "independent"}}}
],
"spacing": 16,
"resolve": {"scale": {"color": "independent", "strokeDash": "independent"}}
}
